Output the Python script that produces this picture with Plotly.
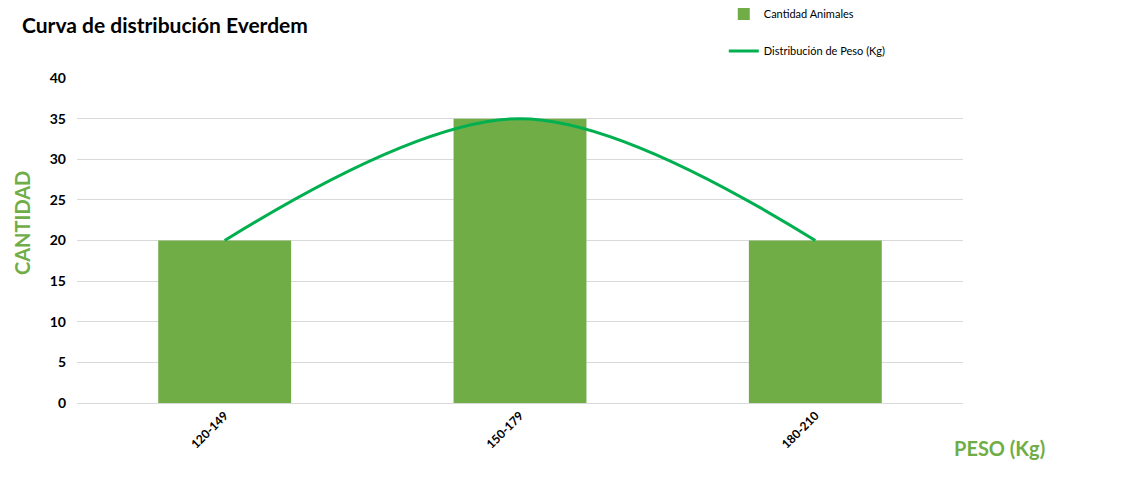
import plotly.graph_objects as go

categories = ["120-149", "150-179", "180-210"]
cantidad = [20, 35, 20]
distribucion = [20, 35, 20]

BAR_COLOR = "#70AD47"
LINE_COLOR = "#00B050"
FONT = "Lato, 'Open Sans', sans-serif"

fig = go.Figure()
fig.add_trace(go.Bar(
    x=categories, y=cantidad, name="Cantidad Animales",
    marker=dict(color=BAR_COLOR, line=dict(width=0)), width=0.45,
    legend="legend", showlegend=True,
))
fig.add_trace(go.Scatter(
    x=categories, y=distribucion, name="Distribución de Peso (Kg)",
    mode="lines", line=dict(color=LINE_COLOR, width=3, shape="spline", smoothing=1.0),
    legend="legend2", showlegend=True,
))

fig.update_layout(
    width=1146, height=494,
    margin=dict(l=77, r=183, t=78, b=91, autoexpand=False),
    paper_bgcolor="white", plot_bgcolor="white",
    showlegend=True,
    font=dict(family=FONT, color="black"),
    title=dict(text="<b>Curva de distribución Everdem</b>", x=22/1146, xanchor="left",
               y=1-26/494, yanchor="middle", font=dict(size=21, color="black", family=FONT)),
    xaxis=dict(showgrid=False, tickangle=-45, tickfont=dict(size=12, weight="bold", color="black"),
               showline=True, linecolor="#d9d9d9", linewidth=1, ticks="", range=[-0.5, 2.5]),
    yaxis=dict(range=[0, 40], dtick=5, showgrid=True, gridcolor="#d9d9d9", gridwidth=1,
               zeroline=False, showline=False, ticks="", ticklabelstandoff=10,
               tickfont=dict(size=14, weight="bold", color="black")),
    legend=dict(x=0.73, y=1.0 + (78 - 14) / 325, xanchor="left", yanchor="middle",
                font=dict(size=11, color="black", family=FONT), bgcolor="rgba(0,0,0,0)"),
    legend2=dict(x=0.73, y=1.0 + (78 - 51) / 325, xanchor="left", yanchor="middle",
                 font=dict(size=11, color="black", family=FONT), bgcolor="rgba(0,0,0,0)"),
    bargap=0.55,
)

fig.add_annotation(text="<b>CANTIDAD</b>", xref="paper", yref="paper",
                   x=-(77 - 22) / 886, y=(403 - 223) / 325, xanchor="center", yanchor="middle",
                   textangle=-90, showarrow=False,
                   font=dict(size=20, color=BAR_COLOR, family=FONT))
fig.add_annotation(text="<b>PESO (Kg)</b>", xref="paper", yref="paper",
                   x=(999 - 77) / 886, y=-(448 - 403) / 325, xanchor="center", yanchor="middle",
                   showarrow=False, font=dict(size=20, color=BAR_COLOR, family=FONT))

fig.write_html("out.html")
